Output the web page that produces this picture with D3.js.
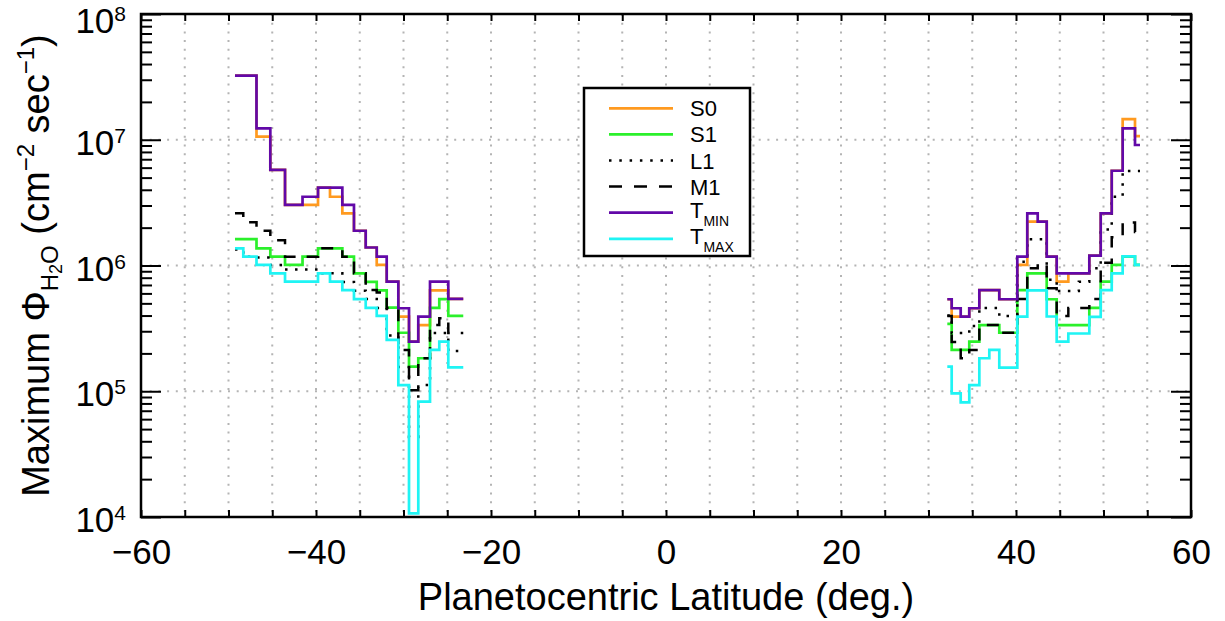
<!DOCTYPE html>
<html>
<head>
<meta charset="utf-8">
<script src="https://cdn.jsdelivr.net/npm/d3@7"></script>
<style>
	body { margin: 0; background: #fff; }
	text { font-family: "Liberation Sans", Arial, Helvetica, sans-serif; fill: #000; }
</style>
</head>
<body>
<svg id="chart" width="1225" height="621"></svg>
<script>
// bin edges (planetocentric latitude, deg.)
const southEdges = [-49.26, -48.31, -46.80, -45.22, -43.54, -41.54, -39.77, -38.40, -36.99, -35.66,
	-34.32, -33.06, -31.92, -30.59, -29.37, -28.31, -26.97, -25.91, -24.88, -23.17]
const northEdges = [32.15, 32.65, 33.68, 34.66, 35.81, 36.95, 38.09, 39.12, 40.15, 41.29,
	42.48, 43.51, 44.65, 45.98, 47.18, 48.38, 49.68, 50.94, 52.19, 53.60, 54.17]

// maximum water flux per bin (cm^-2 sec^-1)
const s0South = [3.23e7, 3.23e7, 1.06e7, 5.75e6, 3.03e6, 3.03e6, 4.16e6, 3.52e6, 2.60e6, 1.89e6,
	1.39e6, 1.01e6, 7.43e5, 3.92e5, 2.48e5, 3.36e5, 6.33e5, 6.33e5, 5.42e5]
const s1South = [1.62e6, 1.62e6, 1.37e6, 1.175e6, 1.01e6, 1.175e6, 1.37e6, 1.37e6, 1.175e6, 8.67e5,
	7.4e5, 6.33e5, 4.63e5, 2.92e5, 1.57e5, 1.83e5, 4.6e5, 5.4e5, 3.97e5]
const l1South = [1.34e6, 1.175e6, 1.16e6, 1.01e6, 9.3e5, 9.3e5, 8.67e5, 8.67e5, 7.4e5, 6.3e5,
	5.42e5, 4.6e5, 2.78e5, 1.56e5, 4.33e4, 1.12e5, 2.9e5, 2.9e5, 2.09e5]
const m1South = [2.60e6, 2.21e6, 1.89e6, 1.59e6, 1.175e6, 1.175e6, 1.37e6, 1.37e6, 1.175e6, 8.67e5,
	6.38e5, 6.1e5, 4.6e5, 2.13e5, 1.02e5, 1.83e5, 3.36e5, 3.8e5, 2.9e5]
const tminSouth = [3.23e7, 3.23e7, 1.233e7, 5.75e6, 3.03e6, 3.52e6, 4.16e6, 4.16e6, 3.03e6, 1.89e6,
	1.39e6, 1.175e6, 7.43e5, 4.57e5, 2.48e5, 3.92e5, 7.43e5, 7.43e5, 5.42e5]
const tmaxSouth = [1.37e6, 1.175e6, 1.01e6, 8.67e5, 7.43e5, 7.43e5, 8.67e5, 7.43e5, 6.38e5, 5.4e5,
	4.6e5, 3.97e5, 2.56e5, 1.12e5, 1.07e4, 8.26e4, 2.13e5, 2.48e5, 1.55e5]

const s0North = [5.39e5, 3.92e5, 3.92e5, 4.57e5, 6.38e5, 6.38e5, 5.39e5, 5.39e5, 1.01e6, 2.23e6,
	2.23e6, 1.175e6, 7.43e5, 8.67e5, 8.67e5, 1.20e6, 2.60e6, 5.67e6, 1.46e7, 1.07e7]
const s1North = [3.43e5, 2.13e5, 2.13e5, 2.48e5, 3.36e5, 3.36e5, 2.92e5, 2.92e5, 6.38e5, 8.67e5,
	8.67e5, 5.39e5, 3.36e5, 3.36e5, 3.36e5, 4.6e5, 7.43e5, 1.01e6, 1.175e6, 1.01e6]
const l1North = [4.0e5, 2.9e5, 2.9e5, 3.3e5, 4.6e5, 4.6e5, 3.97e5, 3.97e5, 1.07e6, 1.62e6,
	1.62e6, 7.7e5, 6.27e5, 6.27e5, 7.43e5, 9.5e5, 1.93e6, 3.52e6, 5.64e6, 5.64e6]
const m1North = [3.97e5, 2.46e5, 1.83e5, 2.13e5, 3.36e5, 3.36e5, 2.92e5, 2.92e5, 5.42e5, 9.5e5,
	1.03e6, 6.6e5, 3.97e5, 4.6e5, 4.6e5, 5.42e5, 1.05e6, 1.68e6, 2.20e6, 1.85e6]
const tminNorth = [5.39e5, 4.57e5, 3.92e5, 4.57e5, 6.38e5, 6.38e5, 5.39e5, 5.39e5, 1.175e6, 2.60e6,
	2.23e6, 1.175e6, 8.67e5, 8.67e5, 8.67e5, 1.20e6, 2.60e6, 5.67e6, 1.233e7, 9.08e6]
const tmaxNorth = [1.57e5, 9.63e4, 8.17e4, 1.12e5, 1.83e5, 2.13e5, 1.54e5, 1.54e5, 3.92e5, 6.33e5,
	6.33e5, 3.93e5, 2.48e5, 2.88e5, 2.88e5, 3.9e5, 6.38e5, 8.67e5, 1.18e6, 1.01e6]

const xTicks = [-60, -40, -20, 0, 20, 40, 60]
const yTicks = [1e4, 1e5, 1e6, 1e7, 1e8]

const series = [
	{ name: 'S0', sub: '', south: s0South, north: s0North, color: '#ff9a1f', dash: null, width: 2.7 },
	{ name: 'S1', sub: '', south: s1South, north: s1North, color: '#2bf02b', dash: null, width: 2.7 },
	{ name: 'L1', sub: '', south: l1South, north: l1North, color: '#000', dash: '2.5,7.5', width: 2.5 },
	{ name: 'M1', sub: '', south: m1South, north: m1North, color: '#000', dash: '12,11', width: 2.5 },
	{ name: 'T', sub: 'MIN', south: tminSouth, north: tminNorth, color: '#6208a8', dash: null, width: 2.7 },
	{ name: 'T', sub: 'MAX', south: tmaxSouth, north: tmaxNorth, color: '#1ff4f4', dash: null, width: 2.7 }
]

const margin = { top: 14, right: 34, bottom: 104, left: 141 }
const width = 1225 - margin.left - margin.right, height = 621 - margin.top - margin.bottom

let svg = d3.select('#chart')

let xScale = d3.scaleLinear().domain([-60, 60]).range([margin.left, margin.left + width])
let yScale = d3.scaleLog().domain([1e4, 1e8]).range([margin.top + height, margin.top])

// dotted grid
let grid = svg.append('g')
grid.selectAll('.gx')
	.data(d3.range(-55, 60, 5))
	.join('line')
	.attr('x1', d => xScale(d)).attr('x2', d => xScale(d))
	.attr('y1', margin.top).attr('y2', margin.top + height)
grid.selectAll('.gy')
	.data([1e5, 1e6, 1e7])
	.join('line')
	.attr('x1', margin.left).attr('x2', margin.left + width)
	.attr('y1', d => yScale(d)).attr('y2', d => yScale(d))
grid.selectAll('line')
	.attr('stroke', '#b4b4b4').attr('stroke-width', 2).attr('stroke-dasharray', '2,6.7')

// step lines
const line = d3.line()
	.x(d => xScale(d[0]))
	.y(d => yScale(d[1]))
	.curve(d3.curveStepAfter)

const steps = (edges, vals) => edges.map((e, i) => [e, vals[Math.min(i, vals.length - 1)]])

series.forEach(s => {
	[steps(southEdges, s.south), steps(northEdges, s.north)].forEach(pts => {
		svg.append('path')
			.attr('d', line(pts))
			.attr('fill', 'none')
			.attr('stroke', s.color)
			.attr('stroke-width', s.width)
			.attr('stroke-dasharray', s.dash)
	})
})

// axes
const styleAxis = g => {
	g.select('.domain').remove()
	g.selectAll('line').attr('stroke', '#000').attr('stroke-width', 2)
}

svg.append('g')
	.attr('transform', `translate(0,${margin.top + height})`)
	.call(d3.axisBottom(xScale).tickValues(d3.range(-60, 61, 5)).tickSize(-7).tickFormat(''))
	.call(styleAxis)
svg.append('g')
	.attr('transform', `translate(0,${margin.top})`)
	.call(d3.axisTop(xScale).tickValues(d3.range(-60, 61, 5)).tickSize(-7).tickFormat(''))
	.call(styleAxis)

let xLabels = svg.append('g')
	.attr('transform', `translate(0,${margin.top + height})`)
	.call(d3.axisBottom(xScale).tickValues(xTicks).tickSize(0).tickPadding(22))
xLabels.select('.domain').remove()
xLabels.selectAll('text').attr('font-size', 35).attr('font-family', '"Liberation Sans", Arial, sans-serif').attr('fill', '#000')

const minorY = d3.range(4, 8).flatMap(p => d3.range(2, 10).map(m => m * Math.pow(10, p)))

;[[d3.axisLeft, margin.left], [d3.axisRight, margin.left + width]].forEach(([ax, pos]) => {
	svg.append('g')
		.attr('transform', `translate(${pos},0)`)
		.call(ax(yScale).tickValues(minorY).tickSize(-11).tickFormat(''))
		.call(styleAxis)
	svg.append('g')
		.attr('transform', `translate(${pos},0)`)
		.call(ax(yScale).tickValues(yTicks).tickSize(-20).tickFormat(''))
		.call(styleAxis)
})

// y tick labels as 10^n (top one kept inside the page)
let yLab = svg.append('g').selectAll('text')
	.data(yTicks)
	.join('text')
	.attr('x', 126)
	.attr('y', d => Math.max(yScale(d) + 15, 33))
	.attr('text-anchor', 'end')
	.attr('font-size', 35)
yLab.append('tspan').text('10')
yLab.append('tspan').attr('dy', -12).attr('font-size', 21).text(d => Math.round(Math.log10(d)))

// frame
svg.append('rect')
	.attr('x', margin.left).attr('y', margin.top)
	.attr('width', width).attr('height', height)
	.attr('fill', 'none').attr('stroke', '#000').attr('stroke-width', 2.5)

// axis titles
svg.append('text')
	.attr('x', xScale(0)).attr('y', 610)
	.attr('text-anchor', 'middle')
	.attr('font-size', 38)
	.text('Planetocentric Latitude (deg.)')

let yTitle = svg.append('text')
	.attr('transform', `translate(49,${margin.top + height / 2}) rotate(-90)`)
	.attr('text-anchor', 'middle')
	.attr('font-size', 38)
yTitle.append('tspan').text('Maximum \u03A6')
yTitle.append('tspan').attr('font-size', 24).attr('dy', 9).text('H')
yTitle.append('tspan').attr('font-size', 18).attr('dy', 4).text('2')
yTitle.append('tspan').attr('font-size', 24).attr('dy', -4).text('O')
yTitle.append('tspan').attr('dy', -9).text(' (cm')
yTitle.append('tspan').attr('font-size', 24).attr('dy', -15).text('\u22122')
yTitle.append('tspan').attr('dy', 15).text(' sec')
yTitle.append('tspan').attr('font-size', 24).attr('dy', -15).text('\u22121')
yTitle.append('tspan').attr('dy', 15).text(')')

// legend
let legend = svg.append('g')
legend.append('rect')
	.attr('x', 584).attr('y', 88).attr('width', 166).attr('height', 168)
	.attr('fill', '#fff').attr('stroke', '#000').attr('stroke-width', 2.5)

let rows = legend.selectAll('.row')
	.data(series)
	.join('g')
	.attr('transform', (d, i) => `translate(0,${108.3 + i * 26.1})`)
rows.append('line')
	.attr('x1', 609).attr('x2', 673)
	.attr('stroke', d => d.color)
	.attr('stroke-width', d => d.width)
	.attr('stroke-dasharray', d => d.dash ? (d.name == 'L1' ? '2.5,7.8' : '13,12') : null)
let lt = rows.append('text')
	.attr('x', 690)
	.attr('y', d => d.sub ? 5 : 8)
	.attr('font-size', 22)
lt.append('tspan').text(d => d.name)
lt.filter(d => d.sub).append('tspan').attr('font-size', 14).attr('dy', 8).text(d => d.sub)
</script>
</body>
</html>
